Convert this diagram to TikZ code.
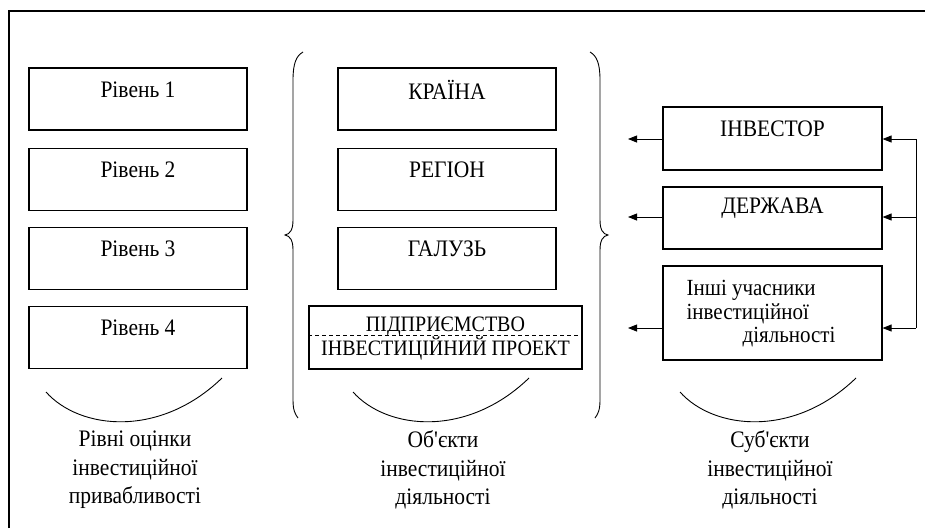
\documentclass[tikz,border=0pt]{standalone}
\usepackage{fontspec}
\setmainfont{Liberation Serif}
\newfontfamily\tnr{Liberation Serif}
\usetikzlibrary{arrows.meta}
\newcommand\vst[1]{\scalebox{1}[1.1]{#1}}
\begin{document}
\begin{tikzpicture}[x=1pt,y=-1pt,
  box/.style={draw, line width=1.2pt, minimum width=218pt, minimum height=62pt, inner sep=0pt},
  boxlab/.style={label={[font=\tnr\fontsize{21.5}{25}\selectfont, anchor=center, yshift=-22pt]north:\vst{#1}}},
  arr/.style={line width=0.8pt, -{Triangle[length=9pt,width=7pt]}},
  ln/.style={line width=0.9pt},
  capt/.style={font=\tnr\fontsize{21.5}{28.5}\selectfont, align=center, inner sep=0pt},
  txt/.style={font=\tnr\fontsize{21}{25}\selectfont, inner sep=0pt}]
\useasboundingbox (0,0) rectangle (925,528);
% frame
\draw[line width=1.2pt] (9,528) -- (9,11) -- (925,11);
% left column
\node[box, boxlab={Рівень 1}] (r1) at (138,99) {};
\node[box, boxlab={Рівень 2}] (r2) at (138,179.5) {};
\node[box, boxlab={Рівень 3}] (r3) at (138,258.5) {};
\node[box, boxlab={Рівень 4}] (r4) at (138,337.5) {};
% middle column
\node[box, boxlab={КРАЇНА}] (k1) at (447,99) {};
\node[box, boxlab={РЕГІОН}] (k2) at (447,179.5) {};
\node[box, boxlab={ГАЛУЗЬ}] (k3) at (447,258.5) {};
\node[box, minimum width=273pt, minimum height=63pt] (k4) at (445.5,337.5) {};
\draw[ln, dash pattern=on 4pt off 3pt] ([yshift=2.5pt]k4.west) -- ([yshift=2.5pt]k4.east);
\node[txt, font=\tnr\fontsize{20}{24}\selectfont] (k4a) at ([yshift=11pt]k4.center) {\vst{ПІДПРИЄМСТВО}};
\node[txt, font=\tnr\fontsize{20}{24}\selectfont] (k4b) at ([yshift=-11.5pt]k4.center) {\vst{ІНВЕСТИЦІЙНИЙ ПРОЕКТ}};
% right column
\node[box, minimum width=219pt, minimum height=63pt, boxlab={ІНВЕСТОР}] (s1) at (772.5,138.5) {};
\node[box, minimum width=219pt, boxlab={ДЕРЖАВА}] (s2) at (772.5,218) {};
\node[box, minimum width=219pt, minimum height=94pt] (s3) at (772.5,313) {};
\node[txt, font=\tnr\fontsize{21}{23.5}\selectfont, align=left, anchor=north west] (s3t)
  at ([xshift=24pt,yshift=-15pt]s3.north west) {\vst{Інші учасники}\\\vst{інвестиційної}\\\hspace*{56pt}\vst{діяльності}};
% arrows
\coordinate (la1) at (628,139);
\coordinate (la2) at (628,217);
\coordinate (la3) at (628,328);
\coordinate (b1) at (916,139);
\coordinate (b2) at (916,217);
\coordinate (b3) at (916,328);
\draw[arr] (s1.west |- la1) -- (la1);
\draw[arr] (s2.west |- la2) -- (la2);
\draw[arr] (s3.west |- la3) -- (la3);
\draw[ln] (b1) -- (b3);
\draw[arr] (b1) -- (s1.east |- b1);
\draw[arr] (b2) -- (s2.east |- b2);
\draw[arr] (b3) -- (s3.east |- b3);
% braces
\draw[ln] (303,52) .. controls (296,56) and (293,64) .. (293,80) -- (293,220)
  .. controls (293,230) and (290,234) .. (285,235)
  .. controls (290,236) and (293,240) .. (293,250) -- (293,400)
  .. controls (293,410) and (295,414) .. (298,418);
\draw[ln] (590,52) .. controls (597,56) and (600,64) .. (600,80) -- (600,220)
  .. controls (600,230) and (603,234) .. (608,235)
  .. controls (603,236) and (600,240) .. (600,250) -- (600,400)
  .. controls (600,410) and (598,414) .. (595,418);
% smiles
\draw[ln] (46,392) .. controls (80,430) and (160,438) .. (222,378);
\draw[ln] (353,392) .. controls (387,430) and (467,438) .. (529,378);
\draw[ln] (680,392) .. controls (714,430) and (794,438) .. (856,378);
% captions
\node[capt] (c1) at (135,470) {\vst{Рівні оцінки}\\\vst{інвестиційної}\\\vst{привабливості}};
\node[capt] (c2) at (443,470) {\vst{Об\textquotesingle єкти}\\\vst{інвестиційної}\\\vst{діяльності}};
\node[capt] (c3) at (770,470) {\vst{Суб\textquotesingle єкти}\\\vst{інвестиційної}\\\vst{діяльності}};
\end{tikzpicture}
\end{document}
